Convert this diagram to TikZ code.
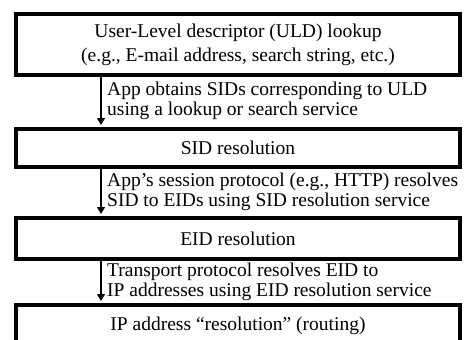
\documentclass[tikz,border=0pt]{standalone}
\usepackage{fontspec}
\setmainfont{Liberation Serif}
\usetikzlibrary{arrows.meta}
\begin{document}
\begin{tikzpicture}[x=1pt,y=-1pt,
  stage/.style={draw, line width=4pt, rectangle, anchor=north west,
    minimum width=444pt, inner sep=0pt, align=center,
    font=\fontsize{19.5}{24}\selectfont},
  flow/.style={line width=1.4pt, shorten >=2pt,
    -{Triangle[width=8pt,length=7pt]}},
  note/.style={anchor=west, align=left, inner sep=0pt,
    font=\fontsize{19.5}{20.5}\selectfont}]
  \useasboundingbox (0,0) rectangle (469,340);
  \clip (0,0) rectangle (469,340);

  % the four resolution stages
  \node[stage, minimum height=61pt] (uld) at (14,12)
    {User-Level descriptor (ULD) lookup\\(e.g., E-mail address, search string, etc.)};
  \node[stage, minimum height=38pt] (sid) at (14,127) {SID resolution};
  \node[stage, minimum height=41pt] (eid) at (14,216) {EID resolution};
  \node[stage, minimum height=41pt] (ip) at (14,303) {IP address “resolution” (routing)};

  % arrows between stages
  \coordinate (ax) at (101,0);
  \draw[flow] (uld.south -| ax) -- (sid.north -| ax);
  \draw[flow] (sid.south -| ax) -- (eid.north -| ax);
  \draw[flow] (eid.south -| ax) -- (ip.north -| ax);

  % what each step does
  \node[note] (n1) at (107,101) {App obtains SIDs corresponding to ULD\\using a lookup or search service};
  \node[note] (n2) at (107,192) {App’s session protocol (e.g., HTTP) resolves\\SID to EIDs using SID resolution service};
  \node[note] (n3) at (107,282) {Transport protocol resolves EID to\\IP addresses using EID resolution service};
\end{tikzpicture}
\end{document}
